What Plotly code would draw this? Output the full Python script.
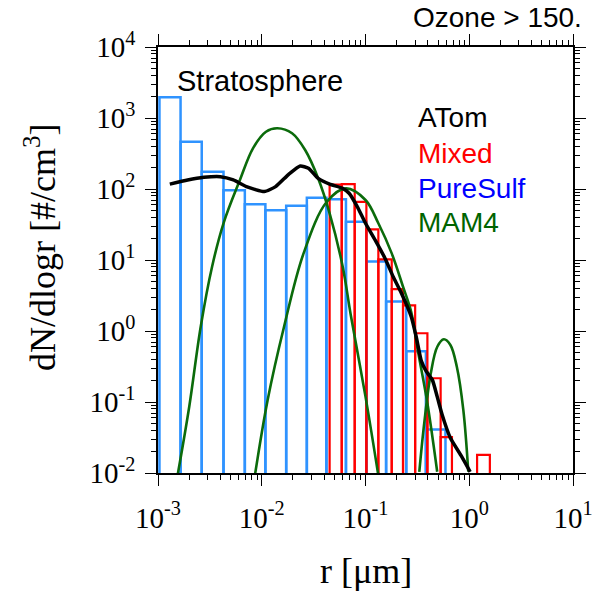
import plotly.graph_objects as go

# ---------------- data ----------------
# PureSulf histogram (blue): bin edges [um] and dN/dlogr [#/cm3]
puresulf_edges = [1.033e-3, 1.65e-3, 2.64e-3, 4.28e-3, 6.87e-3, 1.084e-2, 1.72e-2,
                  2.72e-2, 4.20e-2, 6.48e-2, 0.102, 0.158, 0.247, 0.382, 0.590]
puresulf_vals = [1960, 464, 175, 96, 61, 50, 58, 75, 72, 34.6, 9.5, 2.6, 0.52, 0.041]

# Mixed histogram (red)
mixed_edges = [0.0451, 0.0590, 0.0787, 0.102, 0.133, 0.179, 0.230, 0.301, 0.395,
               0.530, 0.681, 0.898, 1.19, 1.58]
mixed_vals = [115, 117, 66, 27, 10.2, 3.9, 2.3, 0.93, 0.216, 0.032, None, None, 0.018]

# ATom measured size distribution (black)
atom_r = [1.30e-3, 1.93e-3, 2.77e-3, 3.99e-3, 5.32e-3, 7.11e-3, 1.06e-2, 1.36e-2,
          1.82e-2, 2.35e-2, 2.82e-2, 3.50e-2, 4.51e-2, 6.03e-2, 6.95e-2, 8.35e-2,
          0.100, 0.124, 0.154, 0.185, 0.222, 0.276, 0.308, 0.345, 0.385, 0.441,
          0.491, 0.548, 0.658, 0.846, 1.02]
atom_v = [117, 134, 146, 149, 134, 108, 92, 108, 161, 211, 196, 141, 117, 102, 87,
          56, 32.9, 19.1, 10.6, 5.8, 3.4, 1.59, 0.83, 0.38, 0.27, 0.205, 0.119,
          0.066, 0.031, 0.017, 0.0104]

# MAM4 modes (green)
aitken_r = [1.556e-3, 2.00e-3, 2.58e-3, 3.32e-3, 4.28e-3, 6.16e-3, 8.23e-3, 1.099e-2,
            1.416e-2, 1.96e-2, 2.62e-2, 3.50e-2, 4.51e-2, 6.03e-2, 7.21e-2, 0.100, 0.132]
aitken_v = [0.0099, 0.0859, 1.15, 8.05, 32.9, 134, 374, 641, 716, 609, 354, 141,
            45.5, 8.05, 1.68, 0.119, 0.0099]
accum_r = [8.65e-3, 1.14e-2, 1.64e-2, 2.53e-2, 4.20e-2, 6.47e-2, 0.100, 0.133, 0.179,
           0.230, 0.276, 0.319, 0.395, 0.491]
accum_v = [0.0099, 0.107, 1.15, 12.4, 65, 102, 70, 32.9, 12.4, 4.2, 1.85, 0.54,
           0.096, 0.0104]
coarse_r = [0.330, 0.368, 0.426, 0.492, 0.569, 0.658, 0.759, 0.877, 0.979]
coarse_v = [0.0104, 0.050, 0.254, 0.60, 0.764, 0.635, 0.314, 0.077, 0.0104]

# tick labels
x_tick_vals = [1e-3, 1e-2, 1e-1, 1, 10]
x_tick_text = ["10<sup>-3</sup>", "10<sup>-2</sup>", "10<sup>-1</sup>",
               "10<sup>0</sup>", "10<sup>1</sup>"]
y_tick_vals = [1e-2, 1e-1, 1, 10, 100, 1000, 10000]
y_tick_text = ["10<sup>-2</sup>", "10<sup>-1</sup>", "10<sup>0</sup>", "10<sup>1</sup>",
               "10<sup>2</sup>", "10<sup>3</sup>", "10<sup>4</sup>"]

legend_names = ["ATom", "Mixed", "PureSulf", "MAM4"]
legend_colors = ["black", "#FF0000", "#0000FF", "#006400"]

# ---------------- helpers ----------------
FLOOR = 1e-3  # below the visible range; clipped by the axis


def hist_outline(edges, vals):
    xs, ys = [], []
    for i, v in enumerate(vals):
        if v is None:
            continue
        x0, x1 = edges[i], edges[i + 1]
        xs += [x0, x0, x1, x1, None]
        ys += [FLOOR, v, v, FLOOR, None]
    return xs, ys


fig = go.Figure()

bx, by = hist_outline(puresulf_edges, puresulf_vals)
fig.add_trace(go.Scatter(x=bx, y=by, mode="lines",
                         line=dict(color="#2F93FF", width=2.5), showlegend=False))
rx, ry = hist_outline(mixed_edges, mixed_vals)
fig.add_trace(go.Scatter(x=rx, y=ry, mode="lines",
                         line=dict(color="#FF0000", width=2.2), showlegend=False))

for r, v in [(aitken_r, aitken_v), (accum_r, accum_v), (coarse_r, coarse_v)]:
    fig.add_trace(go.Scatter(x=r, y=v, mode="lines",
                             line=dict(color="#0B6B0B", width=2.6, shape="spline",
                                       smoothing=1.0),
                             showlegend=False))

fig.add_trace(go.Scatter(x=atom_r, y=atom_v, mode="lines",
                         line=dict(color="black", width=3.5, shape="spline",
                                   smoothing=0.5),
                         showlegend=False))

serif = "Liberation Serif, Times New Roman, serif"
sans = "Liberation Sans, Arial, Helvetica, sans-serif"

minor_x = [m * 10 ** e for e in range(-3, 1) for m in range(2, 10)]
minor_y = [m * 10 ** e for e in range(-2, 4) for m in range(2, 10)]

axis_common = dict(type="log", showgrid=False, zeroline=False, showline=True,
                   linecolor="black", linewidth=1.5, mirror="allticks",
                   ticks="outside", tickcolor="black", tickwidth=1.2, ticklen=11,
                   tickmode="array",
                   tickfont=dict(family=serif, size=29, color="black"))

fig.update_xaxes(**axis_common, range=[-3, 1], tickvals=x_tick_vals,
                 ticktext=x_tick_text, ticklabelstandoff=7,
                 minor=dict(tickvals=minor_x, ticks="outside", ticklen=5,
                            tickcolor="black", tickwidth=1))
fig.update_yaxes(**axis_common, range=[-2, 4], tickvals=y_tick_vals,
                 ticktext=y_tick_text, ticklabelstandoff=4,
                 minor=dict(tickvals=minor_y, ticks="outside", ticklen=5,
                            tickcolor="black", tickwidth=1))

annotations = [
    dict(text="r [\u03bcm]", x=0.5, y=-0.23, xref="paper", yref="paper",
         showarrow=False, font=dict(family=serif, size=36, color="black"),
         xanchor="center", yanchor="middle"),
    dict(text="dN/dlogr [#/cm<sup>3</sup>]", x=-0.285, y=0.53, xref="paper",
         yref="paper", showarrow=False, textangle=-90,
         font=dict(family=serif, size=36, color="black"),
         xanchor="center", yanchor="middle"),
    dict(text="Stratosphere", x=0.042, y=0.92, xref="paper", yref="paper",
         showarrow=False, font=dict(family=sans, size=29, color="black"),
         xanchor="left", yanchor="middle"),
    dict(text="Ozone > 150.", x=1.027, y=1.07, xref="paper", yref="paper",
         showarrow=False, font=dict(family=sans, size=28, color="black"),
         xanchor="right", yanchor="middle"),
]
legend_y = [0.835, 0.751, 0.669, 0.587]
for name, col, yy in zip(legend_names, legend_colors, legend_y):
    annotations.append(dict(text=name, x=0.622, y=yy, xref="paper", yref="paper",
                            showarrow=False,
                            font=dict(family=sans, size=28, color=col),
                            xanchor="left", yanchor="middle"))

fig.update_layout(width=605, height=594, margin=dict(l=158, r=23, t=47, b=121),
                  plot_bgcolor="white", paper_bgcolor="white",
                  showlegend=False, annotations=annotations)

fig.write_html("out.html")
